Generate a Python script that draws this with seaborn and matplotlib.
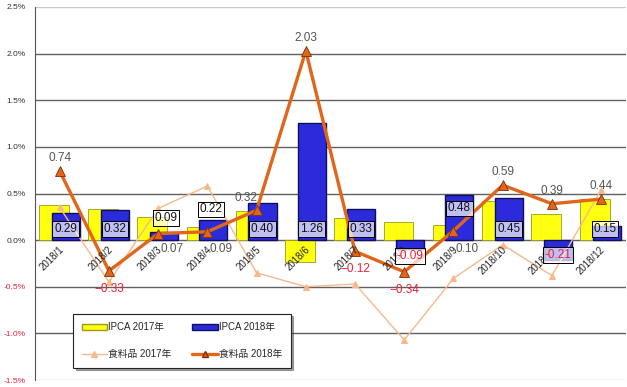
import numpy as np
import matplotlib
matplotlib.use('Agg')
import matplotlib.pyplot as plt
import seaborn as sns
from matplotlib.patches import Patch
from matplotlib.lines import Line2D

months = ['2018/1', '2018/2', '2018/3', '2018/4', '2018/5', '2018/6',
          '2018/7', '2018/8', '2018/9', '2018/10', '2018/11', '2018/12']
ipca_2017 = [0.38, 0.33, 0.25, 0.14, 0.31, -0.23, 0.24, 0.19, 0.16, 0.42, 0.28, 0.44]
ipca_2018 = [0.29, 0.32, 0.09, 0.22, 0.40, 1.26, 0.33, -0.09, 0.48, 0.45, -0.21, 0.15]
food_2017 = [0.35, -0.45, 0.34, 0.58, -0.35, -0.50, -0.47, -1.07, -0.41, -0.05, -0.38, 0.54]
food_2018 = [0.74, -0.33, 0.07, 0.09, 0.32, 2.03, -0.12, -0.34, 0.10, 0.59, 0.39, 0.44]
legend_labels = ['IPCA 2017年', 'IPCA 2018年', '食料品 2017年', '食料品 2018年']

sns.set_style('white')
plt.rcParams['font.family'] = ['Liberation Sans', 'Noto Sans CJK JP']

YELLOW = '#ffff10'
BLUE = '#2b2bdc'
ORANGE = '#e2661a'
PEACH = '#f6b98c'
RED = '#e8203a'

fig = plt.figure(figsize=(6.27, 3.87), dpi=100)
ax = fig.add_axes([0.056, 0.018, 0.942, 0.964])

pos = np.arange(len(months))

sns.barplot(x=pos - 0.12, y=ipca_2017, native_scale=True, orient='x', width=0.6,
            color=YELLOW, edgecolor='#9a9a20', linewidth=0.6, saturation=1, ax=ax, zorder=2)
sns.barplot(x=pos + 0.12, y=ipca_2018, native_scale=True, orient='x', width=0.57,
            color=BLUE, edgecolor='#10105a', linewidth=1.0, saturation=1, ax=ax, zorder=3)

sns.lineplot(x=pos, y=food_2017, color=PEACH, linewidth=1.0, marker='^', markersize=5,
             markeredgecolor=PEACH, ax=ax, zorder=4)
sns.lineplot(x=pos, y=food_2018, color=ORANGE, linewidth=2.4, marker='^', markersize=7,
             markeredgecolor='#7a3008', markeredgewidth=0.6, ax=ax, zorder=5)

ax.set_xlim(-0.5, 11.5)
ax.set_ylim(-1.5, 2.5)
yt = np.arange(-1.5, 2.51, 0.5)
ax.set_yticks(yt)
ax.set_yticklabels([f'{v:.1f}%' for v in yt], fontsize=6)
for lab, v in zip(ax.get_yticklabels(), yt):
    lab.set_color(RED if v < 0 else '#333333')
ax.tick_params(axis='y', length=0, pad=7)
ax.set_xticks([])
ax.set_xlabel('')

for v in yt[1:-1]:
    ax.axhline(v, color='#606060', linewidth=1.0, zorder=1)
ax.axhline(-1.5, color='#c8c8c8', linewidth=1.0, zorder=1)
for s in ['top', 'right', 'bottom']:
    ax.spines[s].set_visible(False)
ax.axhline(2.5, color='#c8c8c8', linewidth=1.0, zorder=1)
ax.spines['left'].set_color('#555555')

# month labels along the zero line
for i, m in enumerate(months):
    ax.text(i - 0.02, -0.05, m, rotation=45, rotation_mode='anchor', ha='right', va='top',
            fontsize=7, color='#222222', zorder=6)

# IPCA 2018 boxed labels
box_y = {2: 0.24, 3: 0.33, 7: -0.17, 8: 0.34, 10: -0.16}
box_dx = {2: 0.16, 3: 0.07, 11: 0.08}
for i, v in enumerate(ipca_2018):
    ax.text(i + box_dx.get(i, 0.12), box_y.get(i, 0.12), f'{v:.2f}', ha='center', va='center',
            fontsize=8.5, color=RED if v < 0 else '#111111', zorder=7,
            bbox=dict(boxstyle='square,pad=0.15', facecolor=(1, 1, 1, 0.7), edgecolor='black', linewidth=0.7))

# food 2018 labels
for i, v in enumerate(food_2018):
    txt = f'{v:.2f}'.replace('-', '−')
    if v < 0:
        ax.text(i, v - 0.19, txt, ha='center', va='center', fontsize=8.5, color=RED, zorder=7)
    elif v < 0.2:
        ax.text(i + 0.05, -0.1, txt, ha='left', va='center', fontsize=8.5, color='#555555', zorder=7)
    elif i == 4:
        ax.text(i - 0.22, v + 0.13, txt, ha='center', va='center', fontsize=8.5, color='#555555', zorder=7)
    else:
        ax.text(i, v + 0.14, txt, ha='center', va='center', fontsize=8.5, color='#555555', zorder=7)

h_ipca17 = Patch(facecolor=YELLOW, edgecolor='#9a9a20')
h_ipca18 = Patch(facecolor=BLUE, edgecolor='#10105a')
h_food17 = Line2D([], [], color=PEACH, linewidth=1.0, marker='^', markersize=4)
h_food18 = Line2D([], [], color=ORANGE, linewidth=2.4, marker='^', markersize=5,
                  markeredgecolor='#7a3008')
# ncol=2 fills column by column
leg = ax.legend([h_ipca17, h_food17, h_ipca18, h_food18],
                [legend_labels[0], legend_labels[2], legend_labels[1], legend_labels[3]],
                ncol=2, loc='lower left',
                bbox_to_anchor=(0.056, 0.02, 0.385, 0.16), mode='expand',
                fontsize=7, frameon=True, fancybox=False, shadow=True,
                labelspacing=1.7, handlelength=2.6, handletextpad=0.1, borderpad=0.9,
                columnspacing=1.0)
leg.get_frame().set_edgecolor('#222222')
leg.get_frame().set_linewidth(0.8)
leg.set_zorder(8)

fig.savefig('out.png', dpi=100)
